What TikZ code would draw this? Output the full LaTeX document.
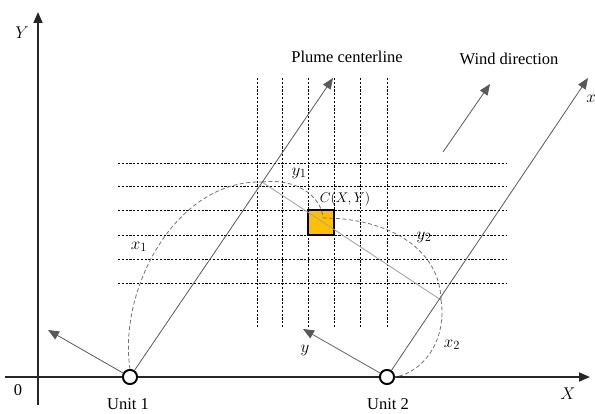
\RequirePackage{fix-cm}
\documentclass[tikz,border=0pt]{standalone}
\usepackage{fontspec}
\setmainfont{Liberation Serif}
\usetikzlibrary{arrows.meta}
\definecolor{cellfill}{HTML}{FFC000}
\newcommand{\bigsub}[1]{_{\mbox{\fontsize{12.5}{13}\selectfont$#1$}}}
\begin{document}
\begin{tikzpicture}[x=1pt,y=-1pt,
 axis/.style={line width=1.6pt, draw=black!85, -{Triangle[length=11pt,width=9pt]}},
 ray/.style={line width=0.8pt, draw=black!65, -{Triangle[length=11pt,width=9pt]}},
 gridline/.style={dash pattern=on 2.2pt off 1.6pt, line width=0.6pt, draw=black},
 arcline/.style={dash pattern=on 4pt off 2.5pt, line width=0.8pt, draw=black!55},
 crossline/.style={line width=0.9pt, draw=black!35},
 unit/.style={circle, draw=black, line width=1.8pt, fill=white, minimum size=14pt, inner sep=0pt},
 lbl/.style={font=\fontsize{16.5}{18}\selectfont, inner sep=0pt},
 mlbl/.style={font=\fontsize{17}{19}\selectfont, inner sep=0pt},
 clbl/.style={font=\fontsize{14}{16}\selectfont, inner sep=0pt}]
\useasboundingbox (0,0) rectangle (595,414);
% grid
\foreach \gx in {257,282,308,334,360,387}{\draw[gridline] (\gx,78) -- (\gx,328);}
\foreach \gy in {163,186,210,235,259,283}{\draw[gridline] (118,\gy) -- (506,\gy);}
% cell
\node[draw=black, line width=1.6pt, fill=cellfill, minimum width=26pt, minimum height=25pt, inner sep=0pt] (cell) at (321,222.5) {};
% key points
\coordinate (ytip) at (38,12);
\coordinate (ybot) at (38,405);
\coordinate (xleft) at (5,377);
\coordinate (xtip) at (590,377);
\coordinate (f1) at (262,182);
\coordinate (f2) at (441,300);
\coordinate (c) at (323,218);
\coordinate (ptip) at (333,78);
\coordinate (x2tip) at (588,78);
\coordinate (w0) at (443,152);
\coordinate (w1) at (490,84);
\coordinate (p1) at (48,330);
\coordinate (p2) at (303,329);
% units
\node[unit] (u1) at (130,377) {};
\node[unit] (u2) at (387,377) {};
% axes
\draw[axis] (ybot) -- (ytip);
\draw[axis] (xleft) -- (xtip);
% crosswind line
\draw[crossline] (f1) -- (f2);
% arcs
\draw[arcline] (u1.north) .. controls (118,290) and (175,180) .. (f1);
\draw[arcline] (f1) .. controls (295,178) and (321,195) .. (c);
\draw[arcline] (c) .. controls (390,218) and (440,250) .. (f2);
\draw[arcline] (f2) .. controls (447,338) and (425,372) .. (u2.east);
% rays
\draw[ray] (u1) -- (ptip);
\draw[ray] (u2) -- (x2tip);
\draw[ray] (w0) -- (w1);
\draw[ray] (u1) -- (p1);
\draw[ray] (u2) -- (p2);
% redraw units on top
\node[unit] at (u1) {};
\node[unit] at (u2) {};
% labels
\node[lbl] (tplume) at (347,57) {Plume centerline};
\node[lbl] (twind) at (509,59) {Wind direction};
\node[lbl] (tu1) at (128,404) {Unit 1};
\node[lbl] (tu2) at (388,404) {Unit 2};
\node[lbl] (tzero) at (18,390) {0};
\node[mlbl] (tY) at (22,33) {$Y$};
\node[mlbl] (tX) at (568,394) {$X$};
\node[mlbl] (tx) at (591,99) {$x$};
\node[mlbl] (ty) at (305,350) {$y$};
\node[mlbl] (tx1) at (139,247) {$x\bigsub{1}$};
\node[mlbl] (ty1) at (299,173) {$y\bigsub{1}$};
\node[mlbl] (ty2) at (424,237) {$y\bigsub{2}$};
\node[mlbl] (tx2) at (452,345) {$x\bigsub{2}$};
\node[clbl] (tC) at (345,199) {$C(X,Y)$};
\end{tikzpicture}
\end{document}
